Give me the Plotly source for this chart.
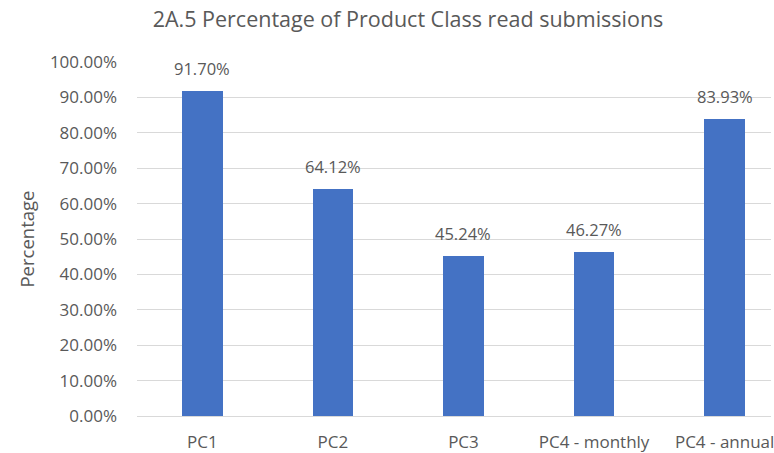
import plotly.graph_objects as go

# Dati
classi = ["PC1", "PC2", "PC3", "PC4 - monthly", "PC4 - annual"]
percentuali = [0.9170, 0.6412, 0.4524, 0.4627, 0.8393]
etichette = [f"{v:.2%}" for v in percentuali]

grigio = "#595959"

fig = go.Figure()

fig.add_trace(go.Bar(
    x=classi, y=percentuali,
    marker=dict(color="#4472C4", line=dict(width=0)),
    width=0.31,
))

# etichette sopra le barre
for c, v, t in zip(classi, percentuali, etichette):
    fig.add_annotation(
        x=c, y=v, text=t, showarrow=False,
        yanchor="bottom", yshift=9,
        font=dict(size=16.5, color=grigio),
    )

fig.add_annotation(
    text="Percentage", textangle=-90, showarrow=False,
    xref="paper", yref="paper", x=-112 / 637, y=0.5,
    xanchor="center", yanchor="middle",
    font=dict(size=18.5, color=grigio),
)

fig.update_layout(
    width=774, height=453,
    margin=dict(l=137, r=0, t=62, b=37),
    paper_bgcolor="white", plot_bgcolor="white",
    font=dict(family="Open Sans", color=grigio),
    title=dict(
        text="2A.5 Percentage of Product Class read submissions",
        x=408 / 774, xanchor="center", y=1 - 19 / 453, yanchor="middle",
        font=dict(size=21.5, color=grigio),
    ),
    showlegend=False,
    bargap=0,
)

fig.update_xaxes(
    range=[-0.5, 4.355], showgrid=False, showline=False,
    tickfont=dict(size=17, color=grigio), ticklabelstandoff=14,
)
fig.update_yaxes(
    range=[0, 1.0], dtick=0.1, tickformat=".2%",
    showgrid=True, gridcolor="#d9d9d9", gridwidth=1,
    zeroline=True, zerolinecolor="#d9d9d9", zerolinewidth=1,
    tickfont=dict(size=17, color=grigio), ticklabelstandoff=19,
)

# niente margine sul body, la figura parte dall'angolo in alto a sinistra
fig.write_html(
    "out.html",
    config={"displayModeBar": False},
    post_script="document.body.style.margin='0';",
)
